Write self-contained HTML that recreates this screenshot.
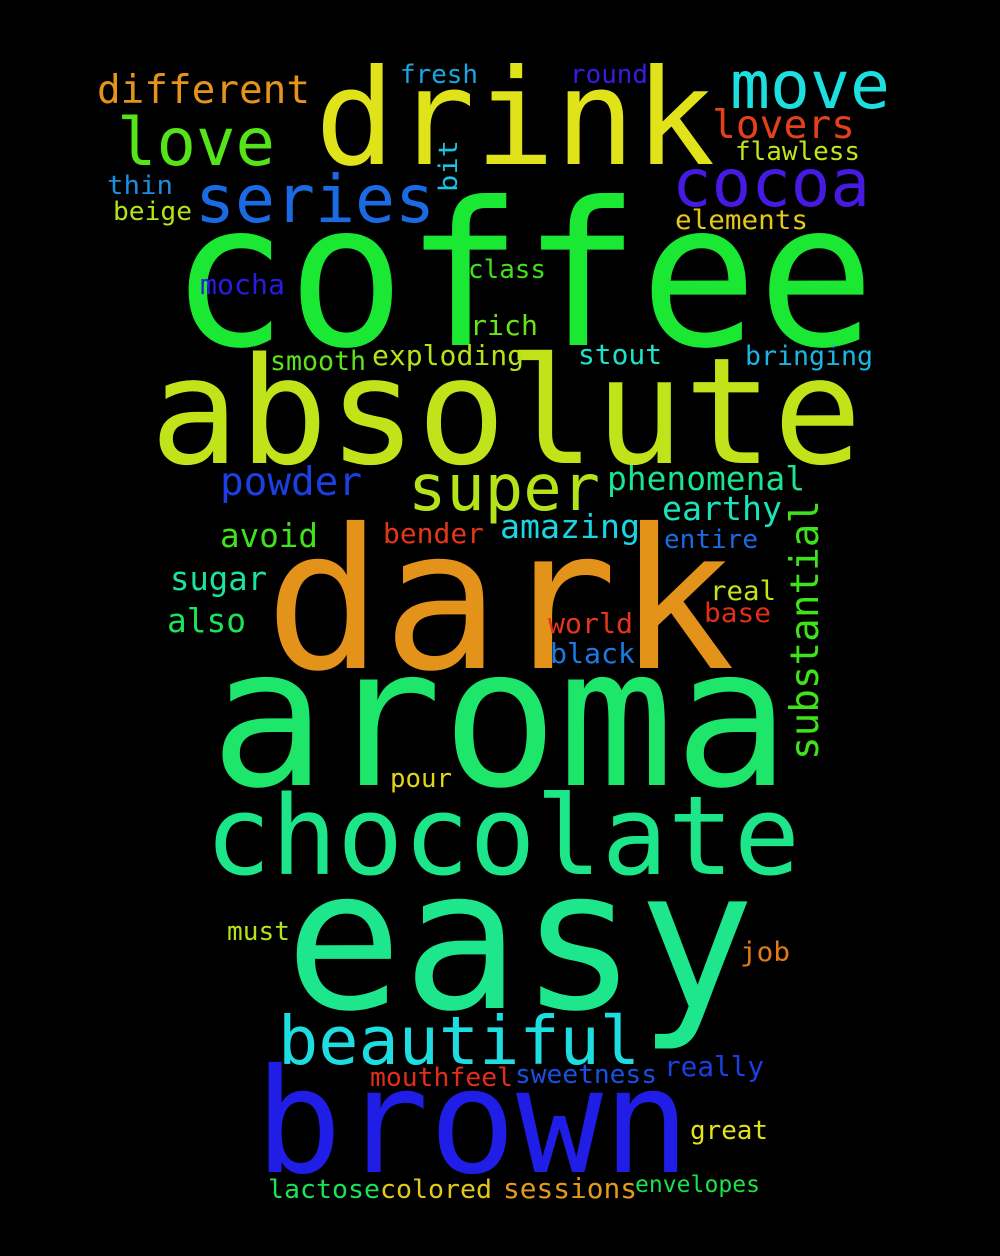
<!DOCTYPE html>
<html><head><meta charset="utf-8"><style>
html,body{margin:0;padding:0;background:#000;}
svg{display:block;}
text{font-family:"DejaVu Sans Mono","Liberation Mono",monospace;}
</style></head><body>
<svg width="1000" height="1256" viewBox="0 0 1000 1256" xmlns="http://www.w3.org/2000/svg">
<rect width="1000" height="1256" fill="#000"/>
<g lengthAdjust="spacingAndGlyphs">
<text x="170" y="345" font-size="200" fill="#1be833" textLength="705" lengthAdjust="spacingAndGlyphs">coffee</text>
<text x="150" y="463" font-size="148" fill="#c0e31a" textLength="712" lengthAdjust="spacingAndGlyphs">absolute</text>
<text x="265" y="668" font-size="195" fill="#e4931a" textLength="470" lengthAdjust="spacingAndGlyphs">dark</text>
<text x="210" y="785" font-size="193" fill="#1de66a" textLength="580" lengthAdjust="spacingAndGlyphs">aroma</text>
<text x="285" y="1008" font-size="195" fill="#1de68c" textLength="470" lengthAdjust="spacingAndGlyphs">easy</text>
<text x="255" y="1172" font-size="145" fill="#1f1de6" textLength="435" lengthAdjust="spacingAndGlyphs">brown</text>
<text x="315" y="164" font-size="133" fill="#e0e31a" textLength="400" lengthAdjust="spacingAndGlyphs">drink</text>
<text x="205" y="874" font-size="110" fill="#1de68a" textLength="595" lengthAdjust="spacingAndGlyphs">chocolate</text>
<text x="278" y="1064" font-size="67" fill="#1ddde0" textLength="362" lengthAdjust="spacingAndGlyphs">beautiful</text>
<text x="408" y="510" font-size="64" fill="#b5e31a" textLength="192" lengthAdjust="spacingAndGlyphs">super</text>
<text x="195" y="222" font-size="66" fill="#1a6be3" textLength="240" lengthAdjust="spacingAndGlyphs">series</text>
<text x="117" y="165" font-size="66" fill="#55e31a" textLength="158" lengthAdjust="spacingAndGlyphs">love</text>
<text x="730" y="108" font-size="66" fill="#1ddfe0" textLength="160" lengthAdjust="spacingAndGlyphs">move</text>
<text x="672" y="206" font-size="66" fill="#461ae3" textLength="198" lengthAdjust="spacingAndGlyphs">cocoa</text>
<text x="97" y="103" font-size="39" fill="#e4941a" textLength="213" lengthAdjust="spacingAndGlyphs">different</text>
<text x="712" y="138" font-size="39" fill="#e3411a" textLength="143" lengthAdjust="spacingAndGlyphs">lovers</text>
<text x="220" y="495" font-size="39" fill="#1a3fe3" textLength="142" lengthAdjust="spacingAndGlyphs">powder</text>
<text x="607" y="490" font-size="33" fill="#1ae393" textLength="198" lengthAdjust="spacingAndGlyphs">phenomenal</text>
<text x="662" y="520" font-size="33" fill="#1ae3bb" textLength="120" lengthAdjust="spacingAndGlyphs">earthy</text>
<text x="500" y="538" font-size="33" fill="#1ad6e3" textLength="140" lengthAdjust="spacingAndGlyphs">amazing</text>
<text x="220" y="547" font-size="33" fill="#3ee31a" textLength="98" lengthAdjust="spacingAndGlyphs">avoid</text>
<text x="170" y="590" font-size="33" fill="#1ae3a0" textLength="97" lengthAdjust="spacingAndGlyphs">sugar</text>
<text x="167" y="632" font-size="33" fill="#1ae359" textLength="79" lengthAdjust="spacingAndGlyphs">also</text>
<text transform="translate(818,760) rotate(-90)" x="0" y="0" font-size="39" fill="#3ee31a" textLength="260" lengthAdjust="spacingAndGlyphs">substantial</text>
<text transform="translate(457,192) rotate(-90)" x="0" y="0" font-size="26" fill="#1ac3e3" textLength="52" lengthAdjust="spacingAndGlyphs">bit</text>
<text x="372" y="365" font-size="28" fill="#b5e31a" textLength="152" lengthAdjust="spacingAndGlyphs">exploding</text>
<text x="270" y="370" font-size="27" fill="#5ee31a" textLength="96" lengthAdjust="spacingAndGlyphs">smooth</text>
<text x="578" y="364" font-size="28" fill="#1ae3c8" textLength="84" lengthAdjust="spacingAndGlyphs">stout</text>
<text x="745" y="365" font-size="27" fill="#1ab5e3" textLength="128" lengthAdjust="spacingAndGlyphs">bringing</text>
<text x="470" y="335" font-size="28" fill="#6be31a" textLength="68" lengthAdjust="spacingAndGlyphs">rich</text>
<text x="468" y="278" font-size="26" fill="#3ee31a" textLength="78" lengthAdjust="spacingAndGlyphs">class</text>
<text x="200" y="294" font-size="28" fill="#2a1ae3" textLength="85" lengthAdjust="spacingAndGlyphs">mocha</text>
<text x="675" y="229" font-size="27" fill="#e3c81a" textLength="133" lengthAdjust="spacingAndGlyphs">elements</text>
<text x="735" y="160" font-size="26" fill="#c3e31a" textLength="125" lengthAdjust="spacingAndGlyphs">flawless</text>
<text x="400" y="83" font-size="26" fill="#1aa6e3" textLength="78" lengthAdjust="spacingAndGlyphs">fresh</text>
<text x="570" y="83" font-size="26" fill="#3a1ae3" textLength="78" lengthAdjust="spacingAndGlyphs">round</text>
<text x="107" y="194" font-size="26" fill="#1a8ee3" textLength="66" lengthAdjust="spacingAndGlyphs">thin</text>
<text x="113" y="220" font-size="26" fill="#b5e31a" textLength="79" lengthAdjust="spacingAndGlyphs">beige</text>
<text x="383" y="543" font-size="28" fill="#e3361a" textLength="101" lengthAdjust="spacingAndGlyphs">bender</text>
<text x="664" y="548" font-size="26" fill="#1a6be3" textLength="94" lengthAdjust="spacingAndGlyphs">entire</text>
<text x="710" y="600" font-size="27" fill="#c3e31a" textLength="66" lengthAdjust="spacingAndGlyphs">real</text>
<text x="704" y="622" font-size="27" fill="#e32d1a" textLength="67" lengthAdjust="spacingAndGlyphs">base</text>
<text x="548" y="633" font-size="28" fill="#e3361a" textLength="85" lengthAdjust="spacingAndGlyphs">world</text>
<text x="550" y="663" font-size="28" fill="#1a7be3" textLength="85" lengthAdjust="spacingAndGlyphs">black</text>
<text x="390" y="787" font-size="26" fill="#e3d61a" textLength="62" lengthAdjust="spacingAndGlyphs">pour</text>
<text x="227" y="940" font-size="26" fill="#b5e31a" textLength="63" lengthAdjust="spacingAndGlyphs">must</text>
<text x="740" y="961" font-size="27" fill="#e37a1a" textLength="50" lengthAdjust="spacingAndGlyphs">job</text>
<text x="664" y="1076" font-size="28" fill="#1a3fe3" textLength="100" lengthAdjust="spacingAndGlyphs">really</text>
<text x="515" y="1083" font-size="26" fill="#1a4fe3" textLength="142" lengthAdjust="spacingAndGlyphs">sweetness</text>
<text x="370" y="1086" font-size="26" fill="#e32d1a" textLength="143" lengthAdjust="spacingAndGlyphs">mouthfeel</text>
<text x="690" y="1139" font-size="26" fill="#e3e31a" textLength="78" lengthAdjust="spacingAndGlyphs">great</text>
<text x="268" y="1198" font-size="26" fill="#1ae359" textLength="112" lengthAdjust="spacingAndGlyphs">lactose</text>
<text x="380" y="1198" font-size="26" fill="#e3c81a" textLength="112" lengthAdjust="spacingAndGlyphs">colored</text>
<text x="503" y="1198" font-size="28" fill="#e39a1a" textLength="134" lengthAdjust="spacingAndGlyphs">sessions</text>
<text x="635" y="1192" font-size="23" fill="#1ae34a" textLength="125" lengthAdjust="spacingAndGlyphs">envelopes</text>
</g>
</svg>
</body></html>
